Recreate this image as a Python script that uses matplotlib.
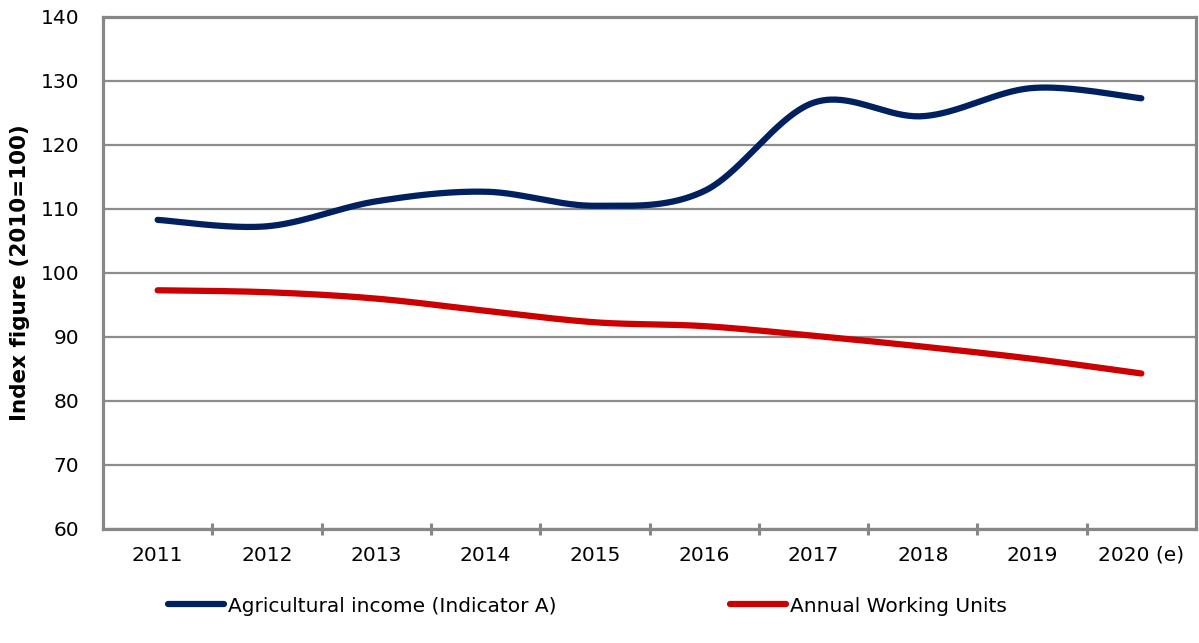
import numpy as np
import matplotlib
matplotlib.use("Agg")
import matplotlib.pyplot as plt
from matplotlib.ticker import FixedLocator, NullFormatter
from matplotlib.lines import Line2D

categories = ["2011", "2012", "2013", "2014", "2015", "2016", "2017", "2018", "2019", "2020 (e)"]
income = [108.3, 107.3, 111.2, 112.7, 110.5, 112.8, 126.6, 124.5, 128.9, 127.3]
awu = [97.3, 97.0, 96.0, 94.1, 92.3, 91.7, 90.2, 88.5, 86.6, 84.3]
series_names = ["Agricultural income (Indicator A)", "Annual Working Units"]
colors = ["#002060", "#CC0000"]


def smooth(xs, ys, n=40):
    xs = np.asarray(xs, float)
    ys = np.asarray(ys, float)
    px = np.concatenate([[xs[0]], xs, [xs[-1]]])
    py = np.concatenate([[ys[0]], ys, [ys[-1]]])
    ox, oy = [], []
    for i in range(1, len(px) - 2):
        p0, p1, p2, p3 = (np.array([px[j], py[j]]) for j in (i - 1, i, i + 1, i + 2))
        c1 = p1 + (p2 - p0) / 6.0
        c2 = p2 - (p3 - p1) / 6.0
        t = np.linspace(0, 1, n)[:, None]
        pts = ((1 - t) ** 3) * p1 + 3 * ((1 - t) ** 2) * t * c1 + 3 * (1 - t) * t ** 2 * c2 + t ** 3 * p2
        ox.extend(pts[:, 0]); oy.extend(pts[:, 1])
    return np.array(ox), np.array(oy)


plt.rcParams['font.family'] = ['DejaVu Sans']
FS = 14.5
fig = plt.figure(figsize=(11.99, 6.43), dpi=100)
ax = fig.add_axes([103 / 1199, 1 - 529 / 643, 1093 / 1199, 512 / 643])

x = np.arange(len(categories))
for vals, name, c in zip([income, awu], series_names, colors):
    sx, sy = smooth(x, vals)
    ax.plot(sx, sy, color=c, lw=4.5, solid_capstyle='round', label=name, zorder=3)

ax.set_xlim(-0.5, len(categories) - 0.5)
ax.set_ylim(60, 140)
ax.set_yticks(np.arange(60, 141, 10))
ax.set_xticks(x)
ax.set_xticklabels(categories)
ax.xaxis.set_minor_locator(FixedLocator(np.arange(0.5, len(categories) - 1, 1.0)))
ax.xaxis.set_minor_formatter(NullFormatter())
ax.tick_params(axis='x', which='major', length=0, pad=12, labelsize=FS, colors='black')
ax.tick_params(axis='x', which='minor', length=9, width=2.2, direction='inout', color='#878787')
ax.tick_params(axis='y', length=0, pad=17, labelsize=FS)
ax.grid(axis='y', color='#8c8c8c', lw=1.6, zorder=0)
ax.set_axisbelow(True)
for s in ax.spines.values():
    s.set_color('#878787')
    s.set_linewidth(2.3)

ax.set_ylabel("Index figure (2010=100)", fontsize=15.5, fontweight='bold')
ax.yaxis.set_label_coords(-0.067, 0.5)

for name, c, xl in zip(series_names, colors, [168, 730]):
    h = Line2D([], [], color=c, lw=4.5, solid_capstyle='round')
    fig.legend([h], [name], loc='center left', bbox_to_anchor=(xl / 1199, 1 - 606 / 643),
               frameon=False, fontsize=FS, handlelength=40 / FS, handletextpad=0.2,
               borderpad=0, borderaxespad=0)

fig.savefig("out.png", dpi=100)
